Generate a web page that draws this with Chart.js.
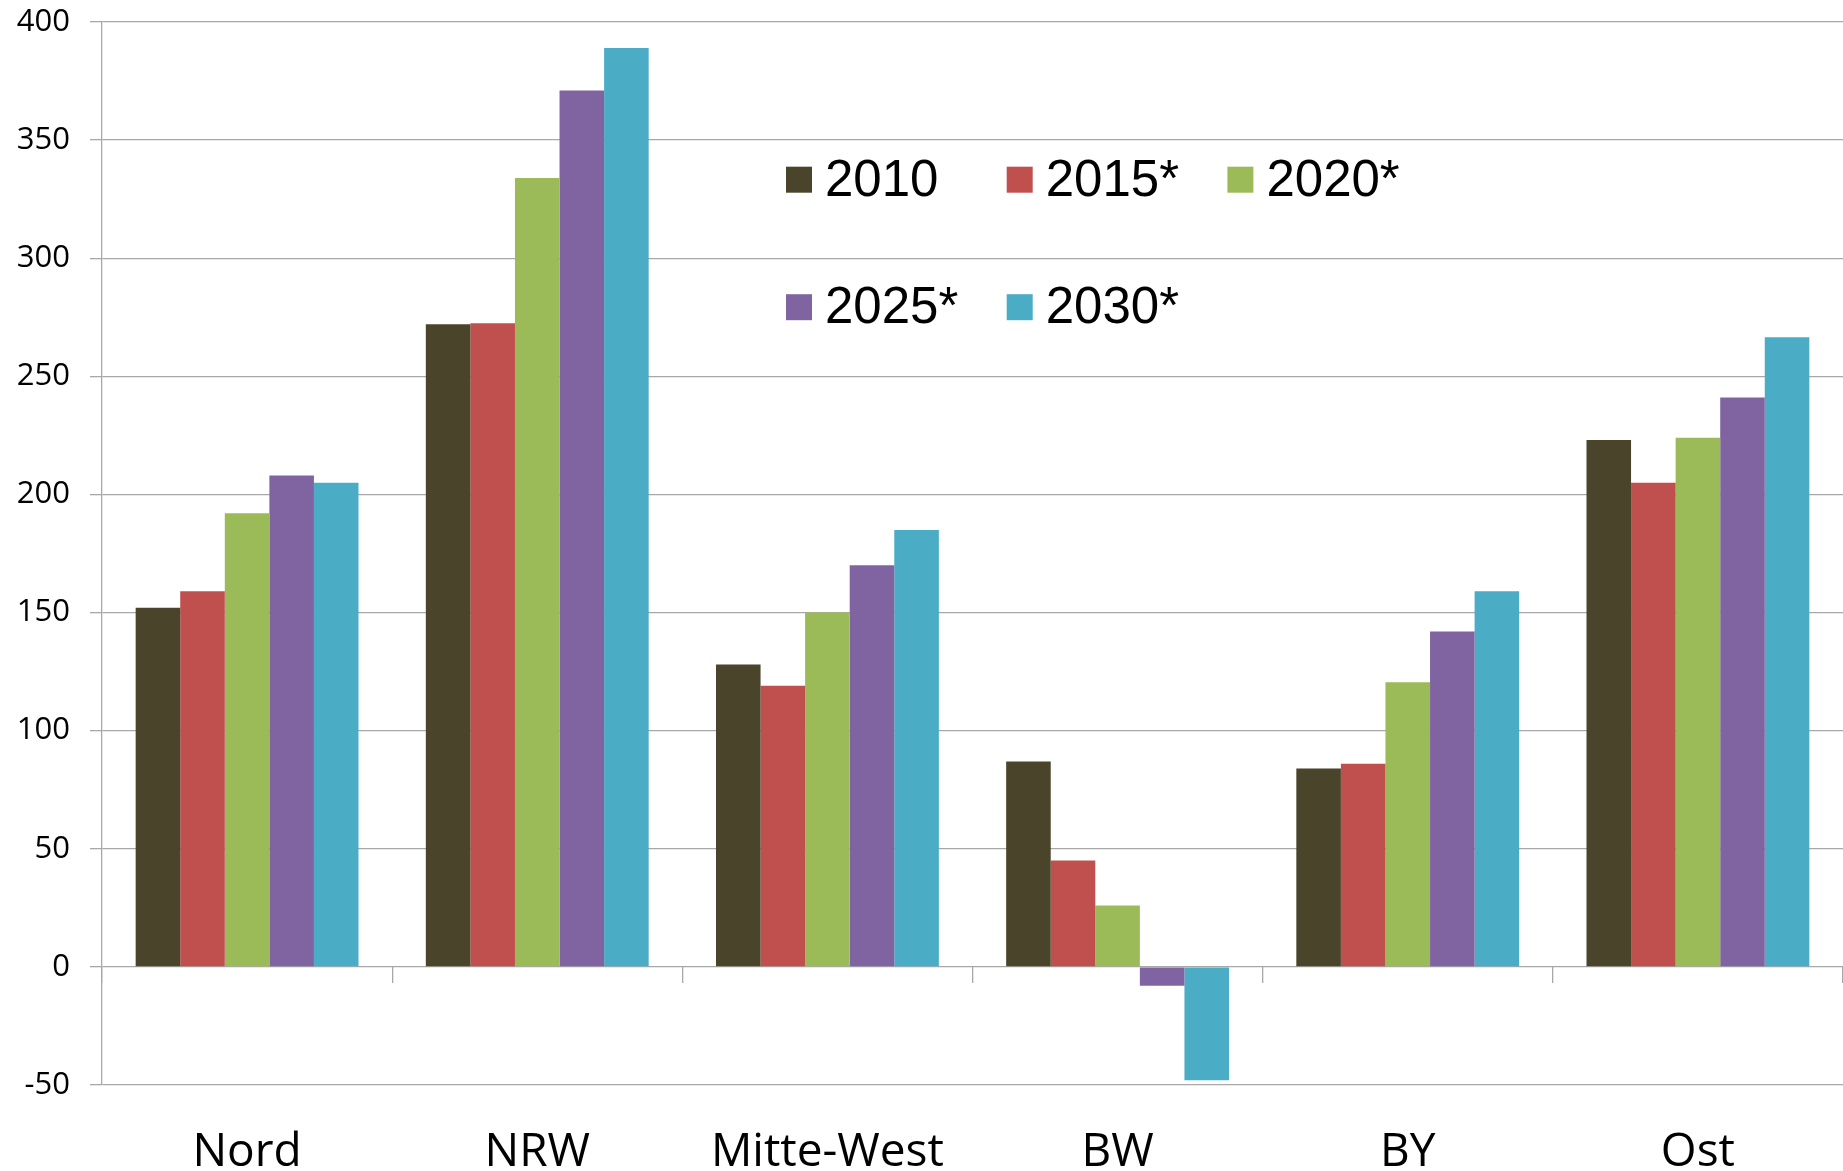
<!DOCTYPE html>
<html><head><meta charset="utf-8">
<script src="https://cdn.jsdelivr.net/npm/chart.js@4.4.1/dist/chart.umd.min.js"></script>
<style>html,body{margin:0;padding:0;background:#fff;} #wrap{position:relative;width:1843px;height:1171px;}</style>
</head><body><div id="wrap"><canvas id="c"></canvas></div>
<script>
const categories = ['Nord', 'NRW', 'Mitte-West', 'BW', 'BY', 'Ost'];
const seriesNames = ['2010', '2015*', '2020*', '2025*', '2030*'];
const v2010 = [152, 272, 128, 87, 84, 223];
const v2015 = [159, 272.5, 119, 45, 86, 205];
const v2020 = [192, 334, 150, 26, 120.5, 224];
const v2025 = [208, 371, 170, -8, 142, 241];
const v2030 = [205, 389, 185, -48, 159, 266.5];
const yTicks = [-50, 0, 50, 100, 150, 200, 250, 300, 350, 400];
const colors = ['#4A452A', '#C0504D', '#9BBB59', '#8064A2', '#4BACC6'];

const seriesValues = [v2010, v2015, v2020, v2025, v2030];
const gridColor = '#a8a8a8';

const boxLegend = {
  id: 'boxLegend',
  afterDraw(chart) {
    const ctx = chart.ctx;
    ctx.save();
    ctx.font = '51px "Liberation Sans", Arial, sans-serif';
    ctx.textBaseline = 'alphabetic';
    ctx.textAlign = 'left';
    chart.data.datasets.forEach((ds, i) => {
      const col = i % 3, row = Math.floor(i / 3);
      const x = 786 + col * 220.7;
      const boxTop = 166.7 + row * 127.5;
      ctx.fillStyle = ds.backgroundColor;
      ctx.fillRect(x, boxTop, 26, 26);
      ctx.fillStyle = '#000';
      ctx.fillText(ds.label, x + 39, 195.7 + row * 127.5);
    });
    ctx.restore();
  }
};

new Chart(document.getElementById('c'), {
  type: 'bar',
  data: {
    labels: categories,
    datasets: seriesNames.map((n, i) => ({
      label: n,
      data: seriesValues[i],
      backgroundColor: colors[i],
      borderWidth: 0,
      categoryPercentage: 0.768,
      barPercentage: 1.0
    }))
  },
  options: {
    responsive: true,
    maintainAspectRatio: false,
    animation: false,
    layout: { padding: { top: 22, right: 0, left: 0, bottom: 0 } },
    plugins: { legend: { display: false }, tooltip: { enabled: false } },
    scales: {
      x: {
        type: 'category',
        position: 'bottom',
        grid: { display: false },
        border: { display: false },
        ticks: { font: { family: '"Open Sans"', size: 46 }, color: '#000', padding: 32, maxRotation: 0, autoSkip: false },
        afterFit(s) { s.height = 86; s.paddingLeft = 0; s.paddingRight = 0; }
      },
      x2: {
        axis: 'x',
        type: 'category',
        labels: categories,
        position: { y: 0 },
        offset: true,
        grid: { offset: true, drawOnChartArea: false, drawTicks: true, tickLength: 16, color: gridColor, lineWidth: 1.3 },
        border: { display: false },
        ticks: { display: false },
        afterFit(s) { s.height = 0; s.paddingLeft = 0; s.paddingRight = 0; }
      },
      y: {
        min: -50,
        max: 400,
        afterBuildTicks(s) { s.ticks = yTicks.map(v => ({ value: v })); },
        grid: { color: gridColor, lineWidth: 1.3, tickLength: 12, drawTicks: true },
        border: { display: true, color: gridColor, width: 1.3 },
        ticks: { font: { family: '"Open Sans"', size: 31 }, color: '#000', padding: 20 },
        afterFit(s) { s.width = 102; s.paddingTop = 0; s.paddingBottom = 0; }
      }
    }
  },
  plugins: [boxLegend]
});
</script>
</body></html>
